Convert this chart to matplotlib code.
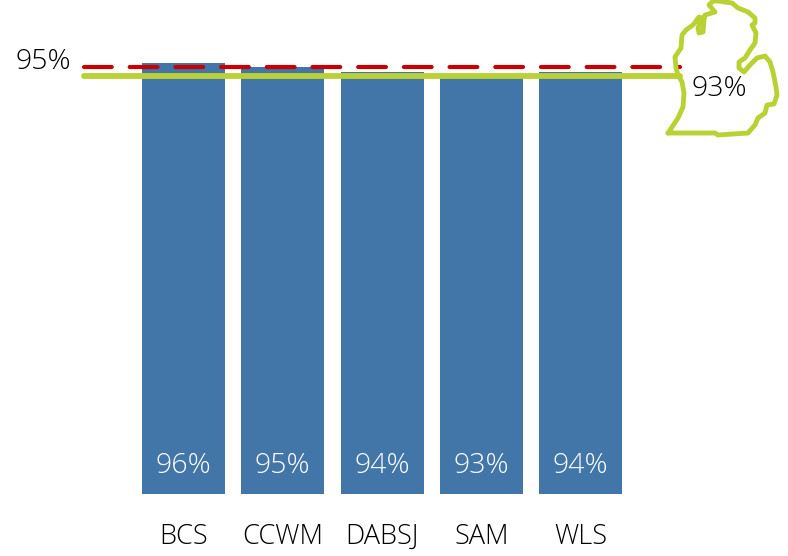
import matplotlib
matplotlib.use('Agg')
import matplotlib.pyplot as plt
from matplotlib.lines import Line2D
from matplotlib.transforms import Affine2D

plt.rcParams['font.family'] = ['Open Sans', 'DejaVu Sans']
plt.rcParams['lines.scale_dashes'] = False

# values
districts = ['BCS', 'CCWM', 'DABSJ', 'SAM', 'WLS']
rates = [96, 95, 94, 93, 94]
target_rate = 95
state_rate = 93

# state outline, traced in reference pixels (decoration, not data)
michigan_x = [668, 678, 683, 684, 682, 678, 676, 675, 681, 682, 686, 693, 699, 702,
              698, 699, 703, 704, 705, 715, 709, 713, 718, 732, 738, 748, 755, 755,
              752, 756, 755, 750, 745, 739, 739, 744, 750, 757, 765, 770, 773, 776,
              777, 774, 767, 765, 758, 755, 748, 718, 715, 668]
michigan_y = [133, 118, 107, 93, 82, 75, 68, 57, 48, 35, 30, 25, 17, 18,
              28, 33, 32, 20, 15, 12, 5, 1, 1, 3, 8, 12, 18, 23,
              25, 33, 43, 50, 58, 62, 68, 72, 65, 58, 56, 62, 72, 87,
              95, 104, 105, 113, 118, 125, 133, 135, 133, 133]

W, H = 788, 556
fig = plt.figure(figsize=(W / 100, H / 100), dpi=100)
ax = fig.add_axes([0, 0, 1, 1])

# set the scales so category 0 sits at x=183.5px, and 0% at y=494px
zero_x = 183.5
px_per_cat = 99.25
px_per_pct = 4.49
ax.set_xlim(-zero_x / px_per_cat, (W - zero_x) / px_per_cat)
ax.set_ylim(-(H - 494) / px_per_pct, 494 / px_per_pct)
ax.axis('off')

xs = list(range(len(districts)))
ax.bar(xs, rates, width=83 / px_per_cat, color='#4275A8', zorder=1)

for x, rate, name in zip(xs, rates, districts):
    ax.text(x, 6.2, f'{rate}%', color='white', fontsize=20.5, ha='center', va='center', fontweight='light')
    ax.text(x, -9.5, name, color='black', fontsize=19.5, ha='center', va='center', fontweight='light')

line_x = [-1.0, 5.0]
ax.plot(line_x, [state_rate, state_rate], color='#BAD134', lw=4.2, solid_capstyle='round', zorder=2)
ax.plot(line_x, [target_rate, target_rate], color='#C80000', lw=3.0, dash_capstyle='round',
        dashes=(20, 12.9), zorder=3)
ax.text(-1.41, 96.2, f'{target_rate}%', color='black', fontsize=20.5, ha='center', va='center', fontweight='light')

# outline in pixel coordinates measured from the top left
px = Affine2D().scale(1, -1).translate(0, H)
fig.add_artist(Line2D(michigan_x, michigan_y, color='#BAD134', lw=3.5, solid_joinstyle='round',
                      solid_capstyle='round', transform=px))
fig.text(719 / W, 1 - 89 / H, f'{state_rate}%', color='black', fontsize=20.5, ha='center', va='center', fontweight='light')

fig.savefig('out.png', dpi=100)
